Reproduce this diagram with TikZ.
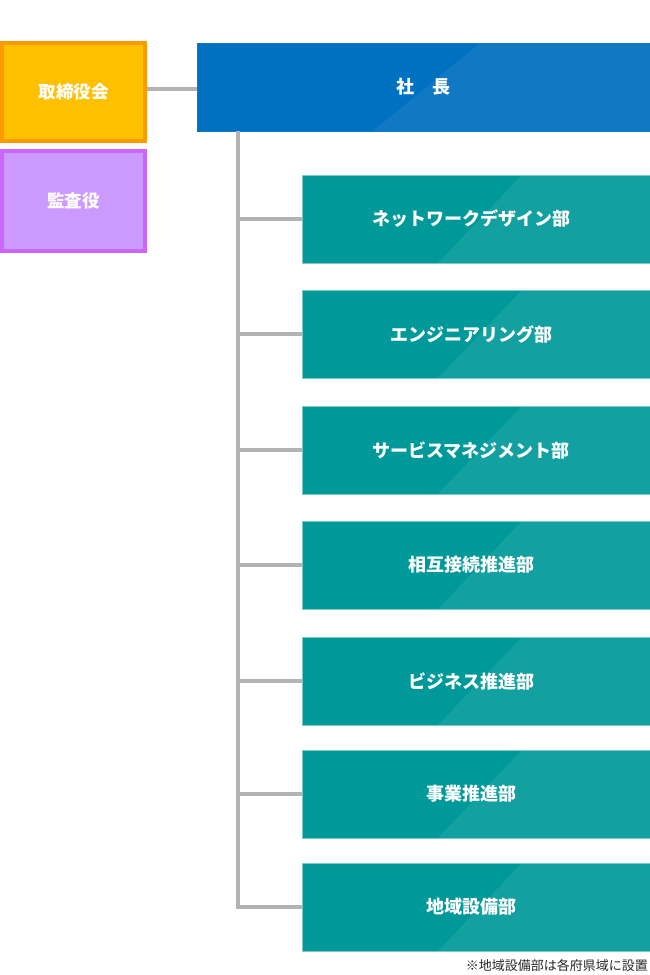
\documentclass[tikz,border=0pt]{standalone}
\usepackage{fontspec}
\setmainfont{Noto Sans CJK JP}
\usetikzlibrary{calc}

\definecolor{ceoblue}{HTML}{0070C0}
\definecolor{ceolight}{HTML}{1178C4}
\definecolor{deptteal}{HTML}{009999}
\definecolor{deptlight}{HTML}{13A0A0}
\definecolor{deptedge}{HTML}{7CCACA}
\definecolor{boardfill}{HTML}{FFC000}
\definecolor{boardedge}{HTML}{FF9900}
\definecolor{auditfill}{HTML}{CC99FF}
\definecolor{auditedge}{HTML}{CC66FF}
\definecolor{linegray}{HTML}{B3B3B3}

\tikzset{
  orgline/.style={draw=linegray, line width=4pt},
  sidebox/.style={minimum width=143pt, minimum height=98pt, inner sep=0pt,
    line width=4pt, text=white, font=\bfseries\fontsize{17.5pt}{20pt}\selectfont},
  ceobox/.style={fill=ceoblue, draw=ceolight, line width=0.8pt, inner sep=0pt,
    minimum width=453pt, minimum height=88pt, text=white,
    font=\bfseries\fontsize{18pt}{21pt}\selectfont,
    path picture={\fill[ceolight]
      ($(path picture bounding box.south west)+(176pt,0pt)$) --
      ($(path picture bounding box.north west)+(283pt,0pt)$) --
      (path picture bounding box.north east) --
      (path picture bounding box.south east) -- cycle;}},
  deptbox/.style={fill=deptteal, draw=deptedge, line width=0.8pt, inner sep=0pt,
    minimum width=348pt, minimum height=88pt, text=white,
    font=\bfseries\fontsize{18pt}{21pt}\selectfont,
    path picture={\fill[deptlight]
      ($(path picture bounding box.south west)+(136pt,0pt)$) --
      ($(path picture bounding box.north west)+(220pt,0pt)$) --
      (path picture bounding box.north east) --
      (path picture bounding box.south east) -- cycle;}}
}

\begin{document}
\begin{tikzpicture}[x=1pt, y=-1pt]

    % Canvas
    \useasboundingbox (0,0) rectangle (650,975);

    % Board and auditors
    \node[sidebox, fill=boardfill, draw=boardedge] (board) at (73.5,92) {取締役会};
    \node[sidebox, fill=auditfill, draw=auditedge, minimum height=100pt] (audit) at (73.5,201) {監査役};

    % President
    \node[ceobox] (ceo) at (423.5,87) {社\hspace{1em}長};

    % Line from the board to the president
    \draw[orgline] ($(ceo.west -| board.east)+(0,2)$) -- ($(ceo.west)+(0,2)$);

    % Departments
    \foreach \dname/\ypos/\dtext in {
        nwd/219/ネットワークデザイン部,
        eng/334/エンジニアリング部,
        svc/450/サービスマネジメント部,
        ixc/565/相互接続推進部,
        biz/681/ビジネス推進部,
        ops/794/事業推進部,
        reg/907/地域設備部}
      \node[deptbox] (\dname) at (476,\ypos) {\hspace{-10pt}\dtext};

    % Trunk below the president
    \coordinate (trunk) at (238,131);
    \draw[orgline] (trunk) |- (reg.west);

    % Branches to the departments
    \foreach \dname in {nwd,eng,svc,ixc,biz,ops}
      \draw[orgline] (trunk |- \dname.west) -- (\dname.west);

    % Note
    \node[anchor=east, inner sep=0pt, text=black!85, font=\fontsize{13pt}{15pt}\selectfont]
      (note) at (648,966) {※地域設備部は各府県域に設置};

\end{tikzpicture}
\end{document}
